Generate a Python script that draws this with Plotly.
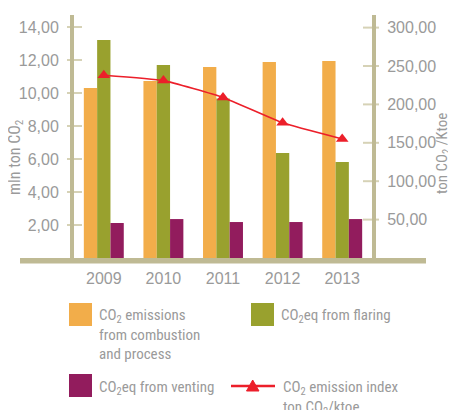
import plotly.graph_objects as go

years = ["2009", "2010", "2011", "2012", "2013"]
combustion = [10.30, 10.73, 11.58, 11.88, 11.94]
flaring = [13.21, 11.70, 9.66, 6.36, 5.82]
venting = [2.12, 2.36, 2.18, 2.18, 2.36]
index_vals = [238, 231, 209, 176, 155]

left_ticks = [2, 4, 6, 8, 10, 12, 14]
left_ticktext = ["2,00", "4,00", "6,00", "8,00", "10,00", "12,00", "14,00"]
right_ticks = [50, 100, 150, 200, 250, 300]
right_ticktext = ["50,00", "100,00", "150,00", "200,00", "250,00", "300,00"]

ORANGE = "#f2ad4a"
GREEN = "#99a12e"
PURPLE = "#921c5d"
RED = "#ec1f2a"
AXIS = "#bfba94"
TICK = "#d6d2b6"
GREY = "#9a9a9a"
FONT = "Liberation Sans"
NARROW = "Liberation Sans Narrow, Roboto Condensed, Liberation Sans"

# page body has an 8px default margin: figure is offset by 8px in the window
OFF = 8
W, H = 456 - OFF, 410 - OFF
# plot area in window pixels
L, R, T, B = 74, 372, 15, 258


def px(x):
    return (x - L) / (R - L)


def py(y):
    return (B - y) / (B - T)


fig = go.Figure()
fig.add_trace(go.Bar(x=years, y=combustion, marker_color=ORANGE, marker_line_width=0, name="combustion"))
fig.add_trace(go.Bar(x=years, y=flaring, marker_color=GREEN, marker_line_width=0, name="flaring"))
fig.add_trace(go.Bar(x=years, y=venting, marker_color=PURPLE, marker_line_width=0, name="venting"))
fig.add_trace(go.Scatter(x=years, y=index_vals, yaxis="y2", mode="lines+markers",
                         line=dict(color=RED, width=1.6, shape="spline", smoothing=0.4),
                         marker=dict(symbol="triangle-up", size=11, color=RED),
                         name="index"))

shapes = []
for v in left_ticks:
    shapes.append(dict(type="line", xref="paper", yref="y", x0=px(67), x1=px(82), y0=v, y1=v,
                       line=dict(color=TICK, width=2), layer="below"))
for v in right_ticks:
    shapes.append(dict(type="line", xref="paper", yref="y2", x0=px(363), x1=px(379), y0=v, y1=v,
                       line=dict(color=TICK, width=2), layer="below"))
shapes.append(dict(type="rect", xref="paper", yref="paper", x0=px(20), x1=px(426), y0=py(263.5), y1=py(258),
                   fillcolor=AXIS, line=dict(width=0), layer="above"))
shapes.append(dict(type="rect", xref="paper", yref="paper", x0=px(69), x1=px(92), y0=py(326), y1=py(303),
                   fillcolor=ORANGE, line=dict(width=0)))
shapes.append(dict(type="rect", xref="paper", yref="paper", x0=px(251), x1=px(274), y0=py(326), y1=py(303),
                   fillcolor=GREEN, line=dict(width=0)))
shapes.append(dict(type="rect", xref="paper", yref="paper", x0=px(69), x1=px(92), y0=py(397), y1=py(374),
                   fillcolor=PURPLE, line=dict(width=0)))
shapes.append(dict(type="line", xref="paper", yref="paper", x0=px(231), x1=px(275), y0=py(386), y1=py(386),
                   line=dict(color=RED, width=2.5)))
tri = "M {:.5f},{:.5f} L {:.5f},{:.5f} L {:.5f},{:.5f} Z".format(
    px(246.5), py(391), px(259), py(391), px(252.7), py(380))
shapes.append(dict(type="path", xref="paper", yref="paper", path=tri, fillcolor=RED, line=dict(color=RED, width=1)))

lf = dict(family=NARROW, size=15, color=GREY)
annotations = [
    dict(text="CO<sub>2</sub> emissions<br>from combustion<br>and process", x=px(97), y=py(304),
         xanchor="left", yanchor="top", align="left", showarrow=False, font=lf, xref="paper", yref="paper"),
    dict(text="CO<sub>2</sub>eq from flaring", x=px(279), y=py(304),
         xanchor="left", yanchor="top", align="left", showarrow=False, font=lf, xref="paper", yref="paper"),
    dict(text="CO<sub>2</sub>eq from venting", x=px(97), y=py(376),
         xanchor="left", yanchor="top", align="left", showarrow=False, font=lf, xref="paper", yref="paper"),
    dict(text="CO<sub>2</sub> emission index<br>ton CO<sub>2</sub>/ktoe", x=px(281), y=py(376),
         xanchor="left", yanchor="top", align="left", showarrow=False, font=lf, xref="paper", yref="paper"),
    dict(text="mln ton CO<sub>2</sub>", x=px(15), y=py(157), textangle=-90,
         xanchor="center", yanchor="middle", showarrow=False, font=dict(family=NARROW, size=16, color=GREY),
         xref="paper", yref="paper"),
    dict(text="ton CO<sub>2</sub> /Ktoe", x=px(443), y=py(154), textangle=-90,
         xanchor="center", yanchor="middle", showarrow=False, font=dict(family=NARROW, size=15, color=GREY),
         xref="paper", yref="paper"),
]

fig.update_layout(
    width=W, height=H,
    margin=dict(l=L - OFF, r=456 - R, t=T - OFF, b=H + OFF - B, pad=0),
    paper_bgcolor="white", plot_bgcolor="white",
    barmode="group", bargap=0.33, bargroupgap=0,
    showlegend=False,
    font=dict(family=FONT, color=GREY),
    xaxis=dict(type="category", showline=False, showgrid=False, zeroline=False, ticks="",
               tickfont=dict(family=FONT, size=16, color=GREY), ticklabelstandoff=9),
    yaxis=dict(range=[0, (B - T) / 16.5], showgrid=False, zeroline=False, showline=True,
               linecolor=AXIS, linewidth=4, ticks="", tickvals=left_ticks, ticktext=left_ticktext,
               tickfont=dict(family=FONT, size=16, color=GREY), ticklabelstandoff=8),
    yaxis2=dict(range=[0, (B - T) / 0.768], overlaying="y", side="right", showgrid=False, zeroline=False,
                showline=True, linecolor=AXIS, linewidth=4, ticks="", tickvals=right_ticks,
                ticktext=right_ticktext, tickfont=dict(family=FONT, size=16, color=GREY),
                ticklabelstandoff=8),
    shapes=shapes,
    annotations=annotations,
)

fig.write_html("out.html")
